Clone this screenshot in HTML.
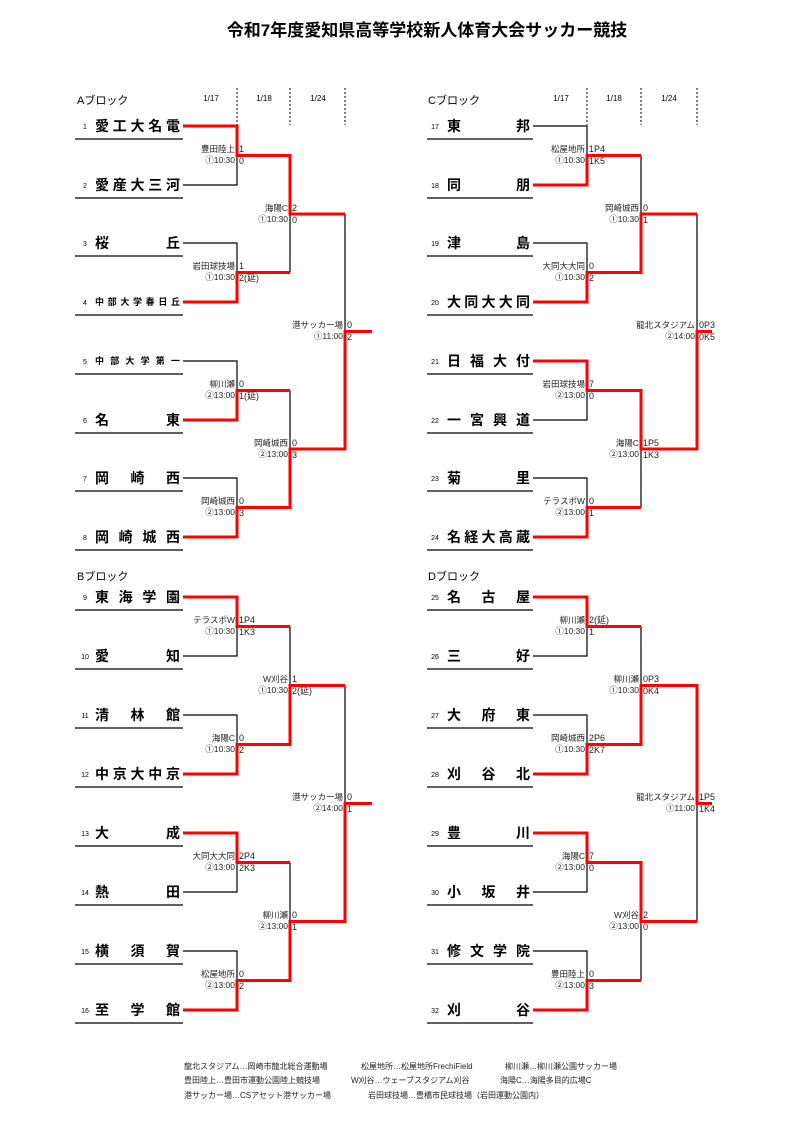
<!DOCTYPE html>
<html><head><meta charset="utf-8"><style>
body{margin:0;background:#fff}
svg{display:block;font-family:"Liberation Sans","Noto Sans CJK JP",sans-serif}
.n{font-size:14px;font-weight:bold}
.s{font-size:9px;font-weight:bold}
.no{font-size:7px}
.v{font-size:8.5px;text-anchor:end;fill:#222}
.sc{font-size:9px;fill:#222}
.d{font-size:8px;text-anchor:middle}
.lg{font-size:8px;fill:#222}
</style></head><body>
<svg width="788" height="1132" viewBox="0 0 788 1132">
<text x="427" y="36" font-size="17" font-weight="bold" text-anchor="middle">令和7年度愛知県高等学校新人体育大会サッカー競技</text>
<text x="77" y="104" font-size="11">Aブロック</text>
<text x="77" y="580" font-size="11">Bブロック</text>
<text x="428" y="104" font-size="11">Cブロック</text>
<text x="428" y="580" font-size="11">Dブロック</text>
<text class="d" x="211" y="101">1/17</text><text class="d" x="264" y="101">1/18</text><text class="d" x="318" y="101">1/24</text>
<text class="d" x="561" y="101">1/17</text><text class="d" x="614" y="101">1/18</text><text class="d" x="669" y="101">1/24</text>
<g stroke="#000" stroke-width="1" stroke-dasharray="2,2"><path d="M237 88V125M290 88V125M345 88V125M587 88V125M641 88V125M697 88V125"/></g>
<g stroke="#000" stroke-width="1.2" fill="none">
<path d="M75 139H183M75 198H183M75 256H183M75 315H183M75 374H183M75 433H183M75 491H183M75 550H183"/>
<path d="M75 610H183M75 669H183M75 728H183M75 787H183M75 846H183M75 905H183M75 964H183M75 1023H183"/>
<path d="M427 139H533M427 198H533M427 256H533M427 315H533M427 374H533M427 433H533M427 491H533M427 550H533"/>
<path d="M427 610H533M427 669H533M427 728H533M427 787H533M427 846H533M427 905H533M427 964H533M427 1023H533"/>
<path d="M183 126H237V185H183M237 155.5H290M183 243H237V302H183M237 272.5H290M183 361H237V420H183M237 390.5H290M183 478H237V537H183M237 507.5H290M290 155.5V272.5M290 214H345M290 390.5V507.5M290 449H345M345 214V449M345 331.5H372"/>
<path d="M183 597H237V656H183M237 626.5H290M183 715H237V774H183M237 744.5H290M183 833H237V892H183M237 862.5H290M183 951H237V1010H183M237 980.5H290M290 626.5V744.5M290 685.5H345M290 862.5V980.5M290 921.5H345M345 685.5V921.5M345 803.5H372"/>
<path d="M533 126H587V185H533M587 155.5H641M533 243H587V302H533M587 272.5H641M533 361H587V420H533M587 390.5H641M533 478H587V537H533M587 507.5H641M641 155.5V272.5M641 214H697M641 390.5V507.5M641 449H697M697 214V449M697 331.5H712"/>
<path d="M533 597H587V656H533M587 626.5H641M533 715H587V774H533M587 744.5H641M533 833H587V892H533M587 862.5H641M533 951H587V1010H533M587 980.5H641M641 626.5V744.5M641 685.5H697M641 862.5V980.5M641 921.5H697M697 685.5V921.5M697 803.5H712"/>
</g>
<g stroke="#f00" stroke-width="3" fill="none">
<path d="M183 126H237V155.5H290V214H345M183 302H237V272.5H290M183 420H237V390.5H290M183 537H237V507.5H290V449H345V331.5H372"/>
<path d="M183 597H237V626.5H290M183 774H237V744.5H290V685.5H345M183 833H237V862.5H290M183 1010H237V980.5H290V921.5H345V803.5H372"/>
<path d="M533 185H587V155.5H641M533 302H587V272.5H641V214H697M533 361H587V390.5H641V449H697V331.5H712M533 537H587V507.5H641"/>
<path d="M533 597H587V626.5H641M533 774H587V744.5H641V685.5H697V803.5H712M533 833H587V862.5H641V921.5H697M533 1010H587V980.5H641"/>
</g>
<!-- numbers -->
<g class="no" text-anchor="middle">
<text x="85" y="129">1</text><text x="85" y="188">2</text><text x="85" y="246">3</text><text x="85" y="305">4</text><text x="85" y="364">5</text><text x="85" y="423">6</text><text x="85" y="481">7</text><text x="85" y="540">8</text>
<text x="85" y="600">9</text><text x="85" y="659">10</text><text x="85" y="718">11</text><text x="85" y="777">12</text><text x="85" y="836">13</text><text x="85" y="895">14</text><text x="85" y="954">15</text><text x="85" y="1013">16</text>
<text x="435" y="129">17</text><text x="435" y="188">18</text><text x="435" y="246">19</text><text x="435" y="305">20</text><text x="435" y="364">21</text><text x="435" y="423">22</text><text x="435" y="481">23</text><text x="435" y="540">24</text>
<text x="435" y="600">25</text><text x="435" y="659">26</text><text x="435" y="718">27</text><text x="435" y="777">28</text><text x="435" y="836">29</text><text x="435" y="895">30</text><text x="435" y="954">31</text><text x="435" y="1013">32</text>
</g>
<!-- names -->
<g class="n" lengthAdjust="spacing">
<text x="95" y="131" textLength="85">愛工大名電</text>
<text x="95" y="190" textLength="85">愛産大三河</text>
<text x="95" y="248" textLength="85">桜丘</text>
<text x="95" y="425" textLength="85">名東</text>
<text x="95" y="483" textLength="85">岡崎西</text>
<text x="95" y="542" textLength="85">岡崎城西</text>
<text x="95" y="602" textLength="85">東海学園</text>
<text x="95" y="661" textLength="85">愛知</text>
<text x="95" y="720" textLength="85">清林館</text>
<text x="95" y="779" textLength="85">中京大中京</text>
<text x="95" y="838" textLength="85">大成</text>
<text x="95" y="897" textLength="85">熱田</text>
<text x="95" y="956" textLength="85">横須賀</text>
<text x="95" y="1015" textLength="85">至学館</text>
<text x="447" y="131" textLength="83">東邦</text>
<text x="447" y="190" textLength="83">同朋</text>
<text x="447" y="248" textLength="83">津島</text>
<text x="447" y="307" textLength="83">大同大大同</text>
<text x="447" y="366" textLength="83">日福大付</text>
<text x="447" y="425" textLength="83">一宮興道</text>
<text x="447" y="483" textLength="83">菊里</text>
<text x="447" y="542" textLength="83">名経大高蔵</text>
<text x="447" y="602" textLength="83">名古屋</text>
<text x="447" y="661" textLength="83">三好</text>
<text x="447" y="720" textLength="83">大府東</text>
<text x="447" y="779" textLength="83">刈谷北</text>
<text x="447" y="838" textLength="83">豊川</text>
<text x="447" y="897" textLength="83">小坂井</text>
<text x="447" y="956" textLength="83">修文学院</text>
<text x="447" y="1015" textLength="83">刈谷</text>
</g>
<text class="s" x="95" y="305" textLength="85" lengthAdjust="spacing">中部大学春日丘</text>
<text class="s" x="95" y="364" textLength="85" lengthAdjust="spacing">中部大学第一</text>
<!-- venues -->
<g class="v">
<text x="235" y="152">豊田陸上</text><text x="235" y="163">①10:30</text>
<text x="235" y="269">岩田球技場</text><text x="235" y="280">①10:30</text>
<text x="235" y="387">柳川瀬</text><text x="235" y="398">②13:00</text>
<text x="235" y="504">岡崎城西</text><text x="235" y="515">②13:00</text>
<text x="288" y="211">海陽C</text><text x="288" y="222">①10:30</text>
<text x="288" y="446">岡崎城西</text><text x="288" y="457">②13:00</text>
<text x="343" y="328">港サッカー場</text><text x="343" y="339">①11:00</text>
<text x="235" y="623">テラスポW</text><text x="235" y="634">①10:30</text>
<text x="235" y="741">海陽C</text><text x="235" y="752">①10:30</text>
<text x="235" y="859">大同大大同</text><text x="235" y="870">②13:00</text>
<text x="235" y="977">松屋地所</text><text x="235" y="988">②13:00</text>
<text x="288" y="682">W刈谷</text><text x="288" y="693">①10:30</text>
<text x="288" y="918">柳川瀬</text><text x="288" y="929">②13:00</text>
<text x="343" y="800">港サッカー場</text><text x="343" y="811">②14:00</text>
<text x="585" y="152">松屋地所</text><text x="585" y="163">①10:30</text>
<text x="585" y="269">大同大大同</text><text x="585" y="280">①10:30</text>
<text x="585" y="387">岩田球技場</text><text x="585" y="398">②13:00</text>
<text x="585" y="504">テラスポW</text><text x="585" y="515">②13:00</text>
<text x="639" y="211">岡崎城西</text><text x="639" y="222">①10:30</text>
<text x="639" y="446">海陽C</text><text x="639" y="457">②13:00</text>
<text x="695" y="328">龍北スタジアム</text><text x="695" y="339">②14:00</text>
<text x="585" y="623">柳川瀬</text><text x="585" y="634">①10:30</text>
<text x="585" y="741">岡崎城西</text><text x="585" y="752">①10:30</text>
<text x="585" y="859">海陽C</text><text x="585" y="870">②13:00</text>
<text x="585" y="977">豊田陸上</text><text x="585" y="988">②13:00</text>
<text x="639" y="682">柳川瀬</text><text x="639" y="693">①10:30</text>
<text x="639" y="918">W刈谷</text><text x="639" y="929">②13:00</text>
<text x="695" y="800">龍北スタジアム</text><text x="695" y="811">①11:00</text>
</g>
<!-- scores -->
<g class="sc">
<text x="239" y="152">1</text><text x="239" y="164">0</text>
<text x="239" y="269">1</text><text x="239" y="281">2(延)</text>
<text x="239" y="387">0</text><text x="239" y="399">1(延)</text>
<text x="239" y="504">0</text><text x="239" y="516">3</text>
<text x="292" y="211">2</text><text x="292" y="223">0</text>
<text x="292" y="446">0</text><text x="292" y="458">3</text>
<text x="347" y="328">0</text><text x="347" y="340">2</text>
<text x="239" y="623">1P4</text><text x="239" y="635">1K3</text>
<text x="239" y="741">0</text><text x="239" y="753">2</text>
<text x="239" y="859">2P4</text><text x="239" y="871">2K3</text>
<text x="239" y="977">0</text><text x="239" y="989">2</text>
<text x="292" y="682">1</text><text x="292" y="694">2(延)</text>
<text x="292" y="918">0</text><text x="292" y="930">1</text>
<text x="347" y="800">0</text><text x="347" y="812">1</text>
<text x="589" y="152">1P4</text><text x="589" y="164">1K5</text>
<text x="589" y="269">0</text><text x="589" y="281">2</text>
<text x="589" y="387">7</text><text x="589" y="399">0</text>
<text x="589" y="504">0</text><text x="589" y="516">1</text>
<text x="643" y="211">0</text><text x="643" y="223">1</text>
<text x="643" y="446">1P5</text><text x="643" y="458">1K3</text>
<text x="699" y="328">0P3</text><text x="699" y="340">0K5</text>
<text x="589" y="623">2(延)</text><text x="589" y="635">1</text>
<text x="589" y="741">2P6</text><text x="589" y="753">2K7</text>
<text x="589" y="859">7</text><text x="589" y="871">0</text>
<text x="589" y="977">0</text><text x="589" y="989">3</text>
<text x="643" y="682">0P3</text><text x="643" y="694">0K4</text>
<text x="643" y="918">2</text><text x="643" y="930">0</text>
<text x="699" y="800">1P5</text><text x="699" y="812">1K4</text>
</g>
<g class="lg">
<text x="184" y="1069">龍北スタジアム…岡崎市龍北総合運動場</text>
<text x="361" y="1069">松屋地所…松屋地所FrechiField</text>
<text x="505" y="1069">柳川瀬…柳川瀬公園サッカー場</text>
<text x="184" y="1083">豊田陸上…豊田市運動公園陸上競技場</text>
<text x="351" y="1083">W刈谷…ウェーブスタジアム刈谷</text>
<text x="500" y="1083">海陽C…海陽多目的広場C</text>
<text x="184" y="1098">港サッカー場…CSアセット港サッカー場</text>
<text x="368" y="1098">岩田球技場…豊橋市民球技場（岩田運動公園内）</text>
</g>
</svg>
</body></html>
